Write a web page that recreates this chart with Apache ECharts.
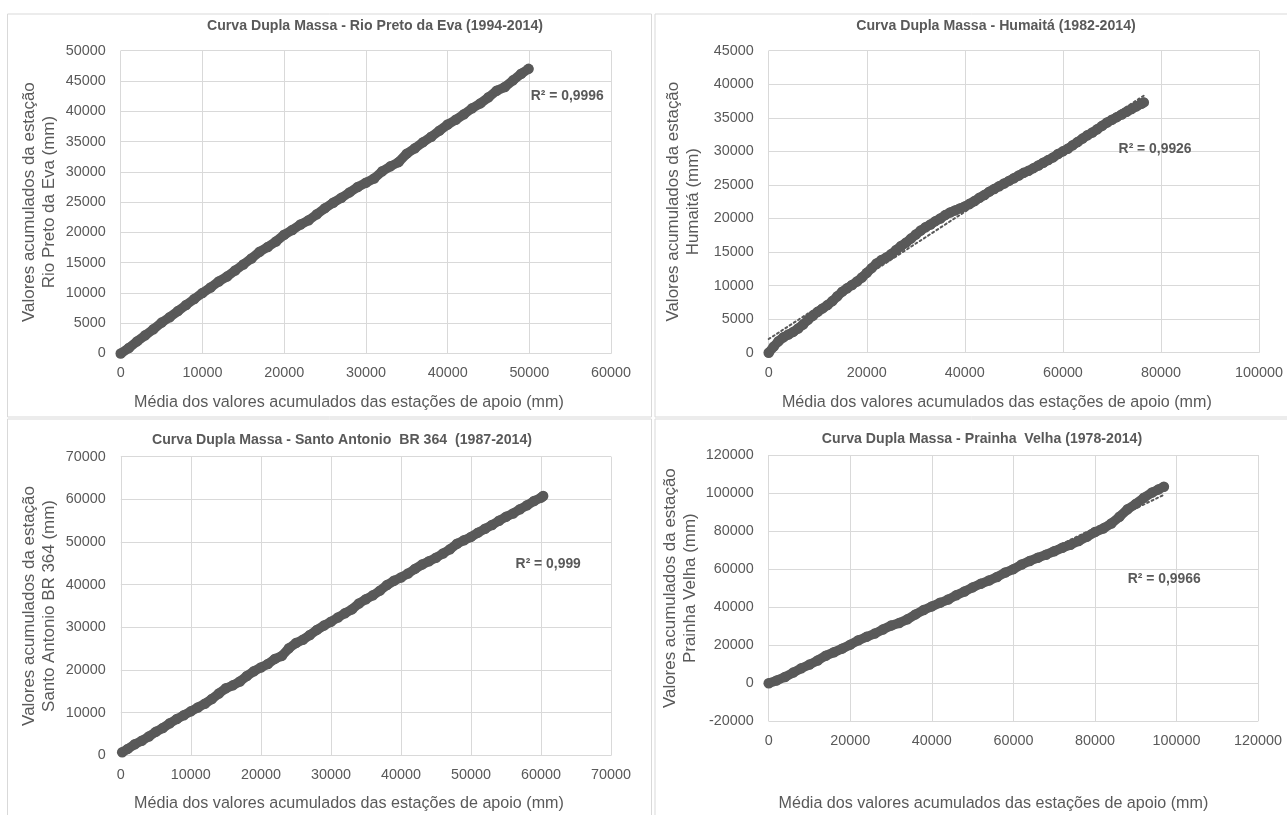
<!DOCTYPE html>
<html><head><meta charset="utf-8">
<script src="https://cdn.jsdelivr.net/npm/echarts@6/dist/echarts.min.js"></script>
<style>html,body{margin:0;padding:0;background:#fff}#c{width:1287px;height:815px}</style>
</head><body><div id="c"></div>
<script>
// ---------------- DATA ----------------
const titles = [
  'Curva Dupla Massa - Rio Preto da Eva (1994-2014)',
  'Curva Dupla Massa - Humaitá (1982-2014)',
  'Curva Dupla Massa - Santo Antonio  BR 364  (1987-2014)',
  'Curva Dupla Massa - Prainha  Velha (1978-2014)'
];
const yNames = [
  'Valores acumulados da estação\nRio Preto da Eva (mm)',
  'Valores acumulados da estação\nHumaitá (mm)',
  'Valores acumulados da estação\nSanto Antonio BR 364 (mm)',
  'Valores acumulados da estação\nPrainha Velha (mm)'
];
const xName = 'Média dos valores acumulados das estações de apoio (mm)';
const r2Labels = ['R² = 0,9996', 'R² = 0,9926', 'R² = 0,999', 'R² = 0,9966'];
const xMax  = [60000, 100000, 70000, 120000];
const xStep = [10000, 20000, 10000, 20000];
const yMin  = [0, 0, 0, -20000];
const yMax  = [50000, 45000, 70000, 120000];
const yStep = [5000, 5000, 10000, 20000];

// Rio Preto da Eva
const rioX = [0,1000,2000,3000,4000,5000,6000,7000,8000,9000,10000,11000,12000,13000,14000,15000,16000,17000,18000,19000,20000,21000,22000,23000,24000,25000,26000,27000,28000,29000,30000,31000,32000,33000,34000,35000,36000,37000,38000,39000,40000,41000,42000,43000,44000,45000,46000,47000,48000,49000,49900];
const rioY = [0,900,2000,3000,4000,5100,6000,7000,8000,9000,10000,10900,11900,12700,13700,14700,15700,16800,17600,18500,19600,20400,21300,22000,23000,24000,24900,25700,26600,27500,28200,28900,30100,30900,31600,33000,33900,34900,35800,36800,37800,38600,39500,40500,41300,42300,43400,44000,45100,46200,47000];

// Humaitá
const humX = [0,1000,2000,3000,4000,5000,6000,7000,8000,9000,10000,11000,12000,13000,14000,15000,16000,17000,18000,19000,20000,21000,22000,23000,24000,25000,26000,27000,28000,29000,30000,31000,32000,33000,34000,35000,36000,37000,38000,39000,40000,41000,42000,43000,44000,45000,46000,47000,48000,49000,50000,51000,52000,53000,54000,55000,56000,57000,58000,59000,60000,61000,62000,63000,64000,65000,66000,67000,68000,69000,70000,71000,72000,73000,74000,75000,76000,76500];
const humY = [0,900,1700,2300,2700,3100,3600,4200,4900,5500,6100,6600,7100,7700,8400,9100,9600,10100,10600,11200,11900,12600,13300,13800,14200,14700,15300,15900,16400,17000,17600,18200,18700,19100,19600,20000,20500,20900,21200,21500,21800,22200,22600,23100,23500,24000,24400,24800,25200,25600,26000,26400,26800,27100,27500,27900,28300,28700,29100,29600,30000,30400,30900,31400,31900,32400,32800,33300,33800,34300,34700,35100,35500,35900,36300,36700,37100,37300];

// Santo Antonio BR 364
const santoX = [200,1000,2000,3000,4000,5000,6000,7000,8000,9000,10000,11000,12000,13000,14000,15000,16000,17000,18000,19000,20000,21000,22000,23000,24000,25000,26000,27000,28000,29000,30000,31000,32000,33000,34000,35000,36000,37000,38000,39000,40000,41000,42000,43000,44000,45000,46000,47000,48000,49000,50000,51000,52000,53000,54000,55000,56000,57000,58000,59000,60000,60300];
const santoY = [700,1500,2600,3400,4400,5500,6400,7500,8500,9400,10300,11200,12100,13200,14500,15700,16400,17300,18600,19700,20600,21400,22600,23300,25100,26300,27100,28200,29400,30400,31300,32300,33300,34200,35600,36600,37500,38600,39900,40900,41700,42600,43700,44700,45500,46300,47300,48300,49600,50400,51200,52200,53100,54000,55000,55900,56700,57700,58600,59600,60400,60800];

// Prainha Velha
const prainhaX = [0,2000,4000,6000,8000,10000,12000,14000,16000,18000,20000,22000,24000,26000,28000,30000,32000,34000,36000,38000,40000,42000,44000,46000,48000,50000,52000,54000,56000,58000,60000,62000,64000,66000,68000,70000,72000,74000,76000,78000,80000,82000,84000,86000,88000,90000,92000,94000,95500,96900];
const prainhaY = [0,1500,3300,5600,7900,9800,12000,14500,16300,18200,20300,22600,24400,26100,28300,30300,31700,33600,36200,38500,40400,42300,44000,46300,48200,50400,52300,54000,55900,58200,60000,62400,64300,66000,67600,69400,71200,72800,74800,77000,79500,81300,84000,87500,91500,94300,97500,100300,101800,103300];

const seriesX = [rioX, humX, santoX, prainhaX];
const seriesY = [rioY, humY, santoY, prainhaY];

// ---------------- LAYOUT / STYLE ----------------
const FAM = "'Liberation Sans Narrow','Liberation Sans',Arial,sans-serif";
const INK = '#595959', GRID = '#d9d9d9';
const cv = document.createElement('canvas').getContext('2d');
function fit(text, weight, target) {
  cv.font = weight + ' 100px ' + FAM;
  return +(100 * target / cv.measureText(text).width).toFixed(2);
}
const tickSize = fit('50000', 'normal', 40);
const titleSize = fit(titles[0], 'bold', 336);
const xNameSize = fit(xName, 'normal', 430);
const yNameSize = fit('Valores acumulados da estação', 'normal', 240);
const r2Size = fit(r2Labels[0], 'bold', 73);

const grids = [
  {left: 120.7, top: 50.7, width: 490.4, height: 302.8},
  {left: 768.7, top: 50.7, width: 490.3, height: 302.0},
  {left: 120.8, top: 456.7, width: 490.3, height: 302.6},
  {left: 768.7, top: 455.0, width: 489.4, height: 302.7}
];
const titlePos = [[375, 26], [996, 26], [342, 440], [982, 439.3]];
const r2Pos = [[530.7, 96], [1118.6, 149.3], [515.6, 564.3], [1127.7, 579]];
const xNameGap = [39.5, 40, 38.7, 72.7];
const xNameShift = [34, 34, 34, 40];
const yNameGap = [61, 65, 61, 68];
const frames = [[7.5, 14, 644, 403], [655, 14, 640, 403], [7.5, 419, 644, 420], [655, 419, 640, 420]];

function linreg(xs, ys) {
  const n = xs.length;
  let mx = 0, my = 0;
  for (let i = 0; i < n; i++) { mx += xs[i]; my += ys[i]; }
  mx /= n; my /= n;
  let sxy = 0, sxx = 0;
  for (let i = 0; i < n; i++) { sxy += (xs[i] - mx) * (ys[i] - my); sxx += (xs[i] - mx) * (xs[i] - mx); }
  const b = sxy / sxx, a = my - b * mx;
  const x0 = Math.min(...xs), x1 = Math.max(...xs);
  return [[x0, a + b * x0], [x1, a + b * x1]];
}

const fmt = v => String(v);
const option = {
  animation: false,
  backgroundColor: '#fff',
  title: titles.map((t, i) => ({
    text: t, left: titlePos[i][0], top: titlePos[i][1] - titleSize * 0.6, textAlign: 'center', padding: 0,
    textStyle: {fontFamily: FAM, fontWeight: 'bold', fontSize: titleSize, lineHeight: titleSize * 1.2, color: INK}
  })),
  grid: grids.map(g => Object.assign({containLabel: false}, g)),
  xAxis: grids.map((g, i) => ({
    type: 'value', gridIndex: i, min: 0, max: xMax[i], interval: xStep[i],
    axisLine: {show: true, onZero: true, lineStyle: {color: GRID, width: 1}},
    axisTick: {show: false},
    splitLine: {show: true, lineStyle: {color: GRID, width: 1}},
    axisLabel: {formatter: fmt, color: INK, fontFamily: FAM, fontSize: tickSize, margin: 13, showMinLabel: true, showMaxLabel: true},
    name: xName, nameLocation: 'middle', nameGap: xNameGap[i],
    nameTextStyle: {fontFamily: FAM, fontSize: xNameSize, lineHeight: 20, color: INK, padding: [0, xNameShift[i], 0, 0]}
  })),
  yAxis: grids.map((g, i) => ({
    type: 'value', gridIndex: i, min: yMin[i], max: yMax[i], interval: yStep[i],
    axisLine: {show: false}, axisTick: {show: false},
    splitLine: {show: true, lineStyle: {color: GRID, width: 1}},
    axisLabel: {formatter: fmt, color: INK, fontFamily: FAM, fontSize: tickSize, margin: 15, showMinLabel: true, showMaxLabel: true},
    name: yNames[i], nameLocation: 'middle', nameRotate: 90, nameGap: yNameGap[i],
    nameTextStyle: {fontFamily: FAM, fontSize: yNameSize, lineHeight: 20, color: INK, align: 'center'}
  })),
  series: [].concat(
    seriesX.map((xs, i) => ({
      type: 'line', xAxisIndex: i, yAxisIndex: i, silent: true, z: 2,
      data: xs.map((x, j) => [x, seriesY[i][j]]),
      symbol: 'circle', symbolSize: 10.5, showSymbol: true,
      lineStyle: {width: 9.5, color: INK, cap: 'round', join: 'round'},
      itemStyle: {color: INK, borderWidth: 0}
    })),
    seriesX.map((xs, i) => ({
      type: 'line', xAxisIndex: i, yAxisIndex: i, silent: true, z: 3,
      data: linreg(xs, seriesY[i]), showSymbol: false, symbol: 'none',
      lineStyle: {width: 2, color: INK, type: [2, 3], cap: 'round'}
    }))
  ),
  graphic: [].concat(
    frames.map(f => ({type: 'rect', z: -1, silent: true,
      shape: {x: f[0], y: f[1], width: f[2], height: f[3]},
      style: {fill: 'none', stroke: GRID, lineWidth: 1}})),
    r2Labels.map((t, i) => ({type: 'text', x: r2Pos[i][0], y: r2Pos[i][1], z: 10, silent: true,
      style: {text: t, fill: INK, fontFamily: FAM, fontWeight: 'bold', fontSize: r2Size, verticalAlign: 'middle', align: 'left'}}))
  )
};
const chart = echarts.init(document.getElementById('c'), null, {renderer: 'canvas'});
chart.setOption(option);
</script>
</body></html>
